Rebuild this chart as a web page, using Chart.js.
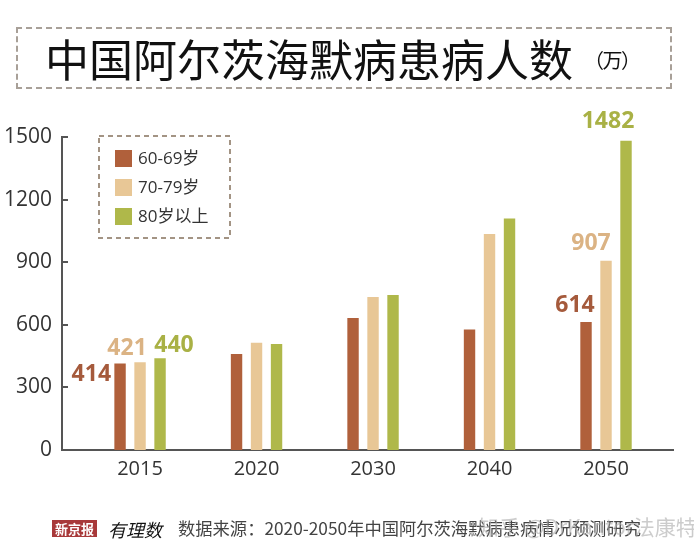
<!DOCTYPE html>
<html>
<head>
<meta charset="utf-8">
<script src="https://cdn.jsdelivr.net/npm/chart.js@4"></script>
<style>
  body { margin: 0; background: #fff; }
  #wrap { position: relative; width: 694px; height: 548px; overflow: hidden; }
  #myChart { position: absolute; left: 0; top: 0; }
  .title {
    position: absolute; left: 16px; top: 27px; width: 652px; height: 58px;
    border: 2px dashed #a8a098;
    font-family: "Noto Sans CJK SC", sans-serif; color: #111;
  }
  .title .big { position: absolute; left: 27px; top: 2px; font-size: 44px; line-height: 54px; }
  .title .small { position: absolute; left: 566px; top: 18px; font-size: 20px; line-height: 26px; letter-spacing: -3px; }
  .foot { position: absolute; top: 517px; font-family: "Noto Sans CJK SC", sans-serif; white-space: nowrap; }
  .logo { left: 52px; top: 520px; background: #a8393a; color: #fff; font-size: 13px; font-weight: bold; padding: 0 3px; line-height: 17px; font-family: "Noto Sans CJK SC", serif; }
  .logo2 { left: 108px; top: 516px; font-size: 18px; font-style: italic; color: #111; }
  .src { left: 178px; font-size: 17.3px; color: #444; line-height: 22px; }
  .mark { left: 478px; top: 511px; font-size: 21px; color: rgba(170,170,170,0.6); }
</style>
</head>
<body>
<div id="wrap">
  <canvas id="myChart" width="694" height="548"></canvas>
  <div class="title"><span class="big">中国阿尔茨海默病患病人数</span><span class="small">（ 万 ）</span></div>
  <div class="foot logo">新京报</div>
  <div class="foot logo2">有理数</div>
  <div class="foot src">数据来源：2020-2050年中国阿尔茨海默病患病情况预测研究</div>
  <div class="foot mark">知乎 @DrKantor法康特</div>
</div>
<script>
var years = ['2015', '2020', '2030', '2040', '2050'];
var age6069 = [414, 460, 632, 578, 614];
var age7079 = [421, 514, 733, 1035, 907];
var age80 = [440, 508, 743, 1110, 1482];
var yTicks = [0, 300, 600, 900, 1200, 1500];

var colors = ['#b0603b', '#e8c796', '#afb84a'];
var labelColors = ['#a55a3c', '#dbb384', '#a9b145'];

function toPoints(arr) {
  return arr.map(function (v, i) { return { x: i, y: v }; });
}

// labels shown on the picture (which dataset, which year) and where they sit next to the bar
var valueLabels = [
  { ds: 0, idx: 0, dx: -9, dy: 11, align: 'right' },
  { ds: 1, idx: 0, dx: -13, dy: -14, align: 'center' },
  { ds: 2, idx: 0, dx: 14, dy: -13, align: 'center' },
  { ds: 0, idx: 4, dx: -11, dy: -16, align: 'center' },
  { ds: 1, idx: 4, dx: -15, dy: -17, align: 'center' },
  { ds: 2, idx: 4, dx: -18, dy: -19, align: 'center' }
];

var extras = {
  id: 'extras',
  afterDraw: function (chart) {
    var c = chart.ctx;
    var ys = chart.scales.y;
    var left = chart.chartArea.left;
    c.save();
    // inward tick marks on the y axis
    c.strokeStyle = '#555';
    c.lineWidth = 2;
    yTicks.forEach(function (t) {
      if (t === 0) return;
      var py = Math.round(ys.getPixelForValue(t));
      c.beginPath();
      c.moveTo(left, py);
      c.lineTo(left + 6, py);
      c.stroke();
    });

    // value labels
    c.font = 'bold 23px "Open Sans", sans-serif';
    c.textBaseline = 'middle';
    valueLabels.forEach(function (l) {
      var bar = chart.getDatasetMeta(l.ds).data[l.idx];
      var val = chart.data.datasets[l.ds].data[l.idx].y;
      c.fillStyle = labelColors[l.ds];
      c.textAlign = l.align;
      c.fillText(String(val), bar.x + l.dx, bar.y + l.dy);
    });

    // legend in a dashed box
    c.setLineDash([5, 4]);
    c.strokeStyle = '#a39484';
    c.lineWidth = 2;
    c.strokeRect(99, 136, 131, 102);
    c.setLineDash([]);
    c.font = '17px "Open Sans", "Noto Sans CJK SC", sans-serif';
    c.textAlign = 'left';
    chart.data.datasets.forEach(function (ds, i) {
      var cy = 158 + i * 29;
      c.fillStyle = ds.backgroundColor;
      c.fillRect(115, cy - 8, 17, 17);
      c.fillStyle = '#333';
      c.fillText(ds.label, 138, cy + 1);
    });
    c.restore();
  }
};

var ctx = document.getElementById('myChart').getContext('2d');
var chart = new Chart(ctx, {
  type: 'bar',
  data: {
    datasets: [
      { label: '60-69岁', backgroundColor: colors[0], data: toPoints(age6069) },
      { label: '70-79岁', backgroundColor: colors[1], data: toPoints(age7079) },
      { label: '80岁以上', backgroundColor: colors[2], data: toPoints(age80) }
    ]
  },
  options: {
    responsive: false,
    animation: false,
    categoryPercentage: 0.515,
    barPercentage: 0.57,
    layout: { padding: { left: 0, right: 21, top: 137, bottom: 0 } },
    plugins: { legend: { display: false }, tooltip: { enabled: false } },
    scales: {
      x: {
        type: 'linear',
        offset: false,
        min: -0.67,
        max: 4.575,
        afterBuildTicks: function (scale) {
          scale.ticks = years.map(function (y, i) { return { value: i }; });
        },
        afterFit: function (scale) { scale.height = 98; },
        grid: { display: false, drawTicks: false, offset: false },
        border: { color: '#555', width: 2 },
        ticks: {
          padding: 7,
          color: '#333',
          font: { family: '"Open Sans", sans-serif', size: 20 },
          callback: function (v) { return years[v]; }
        }
      },
      y: {
        min: 0,
        max: 1500,
        afterBuildTicks: function (scale) {
          scale.ticks = yTicks.map(function (t) { return { value: t }; });
        },
        afterFit: function (scale) { scale.width = 62; },
        grid: { display: false, drawTicks: false },
        border: { color: '#555', width: 2 },
        ticks: {
          padding: 10,
          color: '#333',
          font: { family: '"Open Sans", sans-serif', size: 21 },
          callback: function (v) { return String(v); }
        }
      }
    }
  },
  plugins: [extras]
});
</script>
</body>
</html>
